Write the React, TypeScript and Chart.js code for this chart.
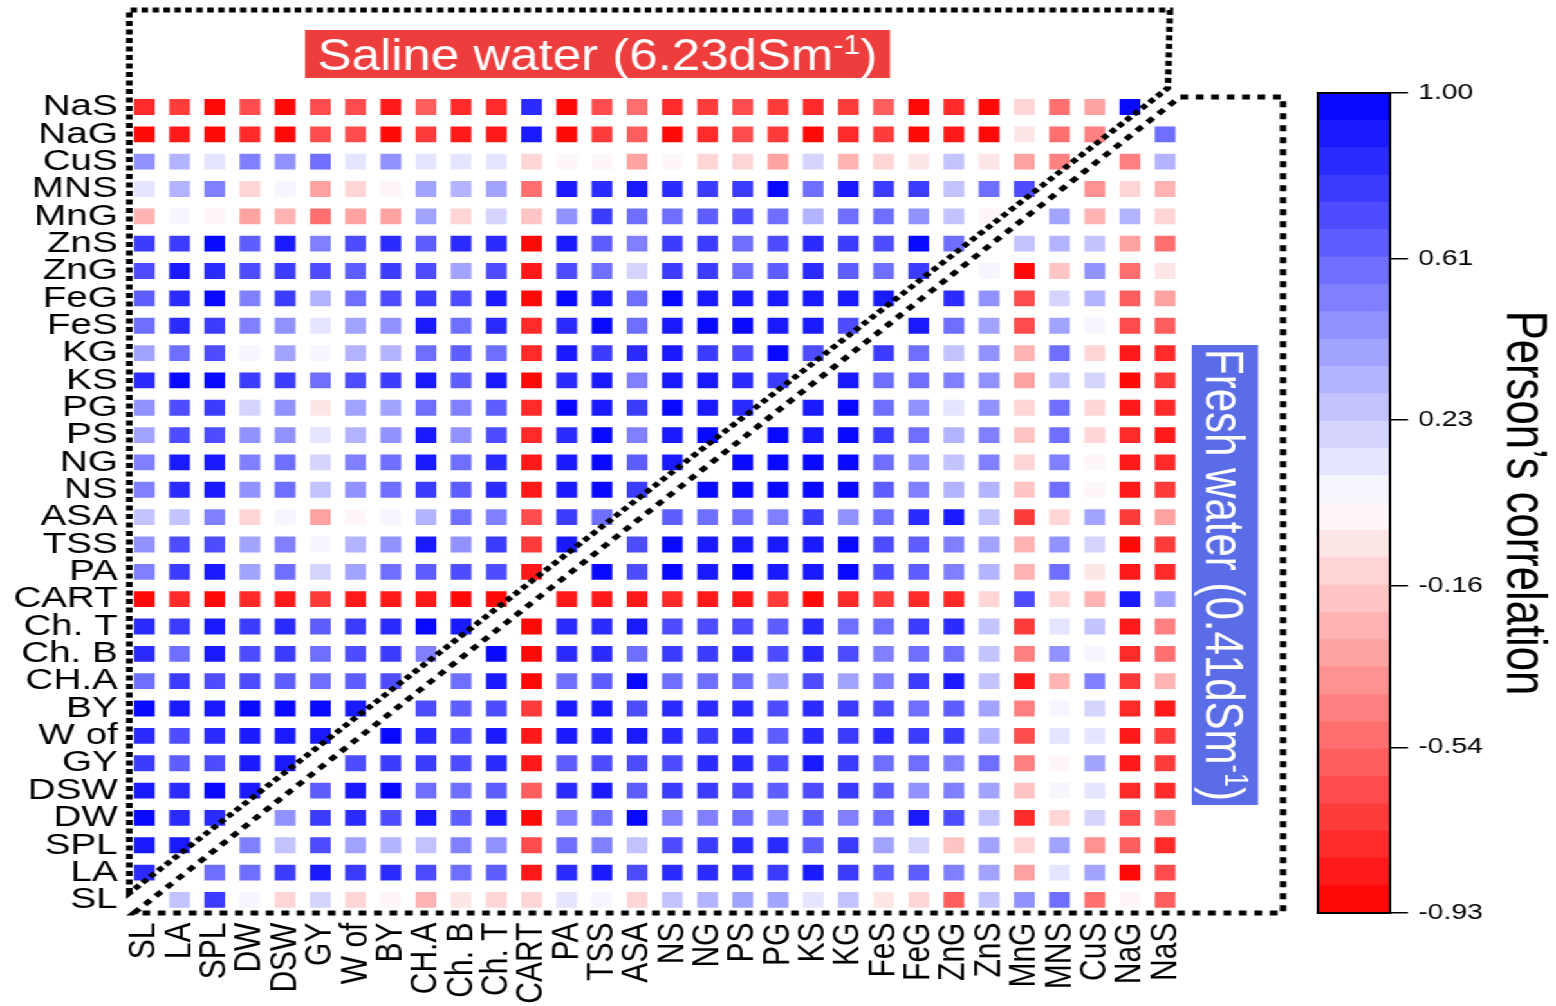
import { useEffect, useRef } from "react";
import { Chart, registerables } from "chart.js";

Chart.register(...registerables);

// ---- labels ----
const colLabels = ["SL", "LA", "SPL", "DW", "DSW", "GY", "W of", "BY", "CH.A", "Ch. B", "Ch. T", "CART", "PA", "TSS", "ASA", "NS", "NG", "PS", "PG", "KS", "KG", "FeS", "FeG", "ZnG", "ZnS", "MnG", "MNS", "CuS", "NaG", "NaS"];
// top to bottom
const rowLabels = ["NaS", "NaG", "CuS", "MNS", "MnG", "ZnS", "ZnG", "FeG", "FeS", "KG", "KS", "PG", "PS", "NG", "NS", "ASA", "TSS", "PA", "CART", "Ch. T", "Ch. B", "CH.A", "BY", "W of", "GY", "DSW", "DW", "SPL", "LA", "SL"];

// ---- correlation rows (columns in colLabels order, null on the diagonal) ----
const rowNaS = [-0.8, -0.7, -0.9, -0.62, -0.87, -0.62, -0.65, -0.82, -0.55, -0.78, -0.78, 0.85, -0.88, -0.65, -0.5, -0.8, -0.72, -0.65, -0.7, -0.78, -0.72, -0.55, -0.88, -0.78, -0.92, -0.12, -0.5, -0.3, 0.95, null];
const rowNaG = [-0.88, -0.85, -0.92, -0.75, -0.87, -0.62, -0.65, -0.87, -0.7, -0.82, -0.82, 0.88, -0.88, -0.72, -0.58, -0.88, -0.78, -0.65, -0.72, -0.9, -0.75, -0.72, -0.88, -0.85, -0.9, -0.03, -0.5, -0.45, null, 0.58];
const rowCuS = [0.45, 0.3, 0.15, 0.52, 0.45, 0.58, 0.15, 0.45, 0.13, 0.13, 0.13, -0.1, -0.02, -0.02, -0.3, -0.02, -0.12, -0.12, -0.3, 0.2, -0.25, -0.12, -0.03, 0.25, -0.03, -0.3, -0.42, null, -0.45, 0.35];
const rowMNS = [0.12, 0.35, 0.5, -0.15, 0.05, -0.35, -0.12, 0.0, 0.38, 0.35, 0.42, -0.48, 0.9, 0.85, 0.9, 0.85, 0.78, 0.75, 0.95, 0.58, 0.92, 0.78, 0.75, 0.25, 0.6, 0.72, null, -0.4, -0.12, -0.28];
const rowMnG = [-0.28, 0.06, 0.0, -0.33, -0.28, -0.48, -0.3, -0.35, 0.42, -0.15, 0.2, -0.18, 0.45, 0.78, 0.55, 0.55, 0.62, 0.68, 0.6, 0.35, 0.58, 0.58, 0.45, 0.28, -0.02, null, 0.38, -0.25, 0.35, -0.12];
const rowZnS = [0.78, 0.75, 0.95, 0.62, 0.9, 0.52, 0.72, 0.85, 0.65, 0.85, 0.85, -0.88, 0.9, 0.65, 0.5, 0.8, 0.78, 0.6, 0.72, 0.85, 0.78, 0.7, 0.95, 0.6, null, 0.25, 0.3, 0.25, -0.3, -0.5];
const rowZnG = [0.72, 0.9, 0.85, 0.7, 0.8, 0.68, 0.65, 0.8, 0.7, 0.42, 0.68, -0.82, 0.68, 0.6, 0.2, 0.78, 0.75, 0.6, 0.65, 0.85, 0.62, 0.6, 0.78, null, 0.05, -0.9, -0.22, 0.45, -0.48, -0.03];
const rowFeG = [0.65, 0.85, 0.97, 0.5, 0.8, 0.35, 0.55, 0.72, 0.8, 0.7, 0.88, -0.92, 0.98, 0.88, 0.6, 1.0, 0.92, 0.88, 0.92, 0.88, 0.9, 0.88, null, 0.85, 0.45, -0.65, 0.2, 0.35, -0.6, -0.35];
const rowFeS = [0.55, 0.85, 0.8, 0.5, 0.48, 0.15, 0.38, 0.48, 0.92, 0.55, 0.82, -0.8, 0.82, 0.98, 0.6, 0.88, 0.98, 0.98, 0.88, 0.88, 0.72, null, 0.88, 0.6, 0.38, -0.62, 0.38, 0.05, -0.62, -0.6];
const rowKG = [0.38, 0.58, 0.72, 0.07, 0.38, 0.07, 0.35, 0.3, 0.55, 0.65, 0.6, -0.78, 0.9, 0.75, 0.82, 0.9, 0.75, 0.72, 0.95, 0.7, null, 0.8, 0.55, 0.25, 0.45, -0.25, 0.6, -0.12, -0.85, -0.78];
const rowKS = [0.85, 0.95, 0.95, 0.78, 0.8, 0.55, 0.72, 0.78, 0.9, 0.65, 0.9, -0.88, 0.85, 0.88, 0.52, 0.88, 0.88, 0.82, 0.78, null, 0.9, 0.58, 0.58, 0.5, 0.45, -0.35, 0.28, 0.22, -0.88, -0.72];
const rowPG = [0.45, 0.7, 0.8, 0.2, 0.48, -0.03, 0.42, 0.38, 0.6, 0.52, 0.62, -0.8, 0.95, 0.88, 0.75, 0.95, 0.9, 0.85, null, 0.92, 0.98, 0.55, 0.45, 0.15, 0.45, -0.12, 0.55, -0.12, -0.82, -0.78];
const rowPS = [0.38, 0.7, 0.72, 0.45, 0.45, 0.15, 0.3, 0.45, 0.92, 0.45, 0.72, -0.75, 0.85, 1.0, 0.5, 0.9, 0.98, null, 0.98, 0.92, 0.98, 0.78, 0.55, 0.35, 0.5, -0.22, 0.55, -0.1, -0.78, -0.85];
const rowNG = [0.52, 0.88, 0.9, 0.52, 0.55, 0.22, 0.5, 0.58, 0.92, 0.55, 0.85, -0.85, 0.88, 0.98, 0.62, 0.92, null, 1.0, 0.98, 0.98, 1.0, 0.55, 0.45, 0.28, 0.52, -0.12, 0.52, -0.02, -0.82, -0.8];
const rowNS = [0.52, 0.82, 0.9, 0.45, 0.55, 0.28, 0.48, 0.55, 0.78, 0.62, 0.85, -0.85, 0.92, 0.95, 0.75, null, 0.98, 0.98, 0.98, 0.95, 1.0, 0.62, 0.5, 0.35, 0.35, -0.2, 0.55, -0.02, -0.85, -0.72];
const rowASA = [0.25, 0.28, 0.52, -0.1, 0.05, -0.3, -0.02, 0.05, 0.3, 0.55, 0.5, -0.62, 0.78, 0.58, null, 0.62, 0.6, 0.6, 0.5, 0.8, 0.48, 0.55, 0.85, 0.92, 0.28, -0.72, -0.12, 0.42, -0.72, -0.3];
const rowTSS = [0.45, 0.72, 0.72, 0.38, 0.5, 0.07, 0.32, 0.45, 0.9, 0.48, 0.75, -0.72, 0.88, null, 0.68, 0.98, 0.92, 0.92, 0.92, 0.92, 0.95, 0.68, 0.62, 0.52, 0.42, -0.25, 0.48, 0.2, -0.9, -0.72];
const rowPA = [0.52, 0.75, 0.9, 0.38, 0.6, 0.2, 0.38, 0.6, 0.62, 0.68, 0.72, -0.82, null, 0.98, 0.68, 0.98, 0.92, 0.98, 0.9, 0.88, 0.95, 0.7, 0.62, 0.5, 0.35, -0.25, 0.55, -0.03, -0.82, -0.78];
const rowCART = [-0.87, -0.8, -0.93, -0.8, -0.85, -0.7, -0.85, -0.85, -0.82, -0.9, -0.93, null, -0.85, -0.82, -0.82, -0.75, -0.82, -0.82, -0.72, -0.9, -0.8, -0.7, -0.8, -0.75, -0.15, 0.68, -0.15, -0.25, 0.92, 0.42];
const rowChT = [0.85, 0.78, 0.88, 0.78, 0.85, 0.65, 0.8, 0.85, 0.95, 0.9, null, -0.93, 0.82, 0.82, 0.88, 0.72, 0.72, 0.72, 0.62, 0.85, 0.6, 0.55, 0.78, 0.85, 0.28, -0.7, 0.15, 0.28, -0.82, -0.45];
const rowChB = [0.82, 0.55, 0.9, 0.68, 0.78, 0.55, 0.72, 0.78, 0.5, null, 0.95, -0.9, 0.82, 0.82, 0.6, 0.78, 0.75, 0.82, 0.72, 0.82, 0.72, 0.5, 0.58, 0.55, 0.25, -0.42, 0.45, 0.05, -0.78, -0.5];
const rowCHA = [0.55, 0.78, 0.72, 0.7, 0.65, 0.55, 0.65, 0.72, null, 0.55, 0.88, -0.88, 0.55, 0.62, 1.0, 0.55, 0.55, 0.55, 0.4, 0.72, 0.42, 0.5, 0.8, 0.92, 0.25, -0.84, -0.25, 0.5, -0.72, -0.28];
const rowBY = [0.95, 0.88, 0.9, 0.95, 1.0, 0.95, 0.92, null, 0.72, 0.62, 0.72, -0.68, 0.88, 0.9, 0.72, 0.85, 0.85, 0.85, 0.68, 0.82, 0.78, 0.72, 0.58, 0.62, 0.4, -0.42, 0.07, 0.22, -0.8, -0.82];
const rowWof = [0.85, 0.7, 0.85, 0.92, 0.9, 0.88, null, 0.95, 0.85, 0.7, 0.9, -0.82, 0.9, 0.9, 0.88, 0.82, 0.75, 0.85, 0.65, 0.82, 0.78, 0.85, 0.78, 0.75, 0.3, -0.62, 0.15, 0.15, -0.82, -0.68];
const rowGY = [0.75, 0.62, 0.72, 0.9, 0.92, null, 0.72, 0.78, 0.78, 0.7, 0.82, -0.82, 0.65, 0.72, 0.72, 0.72, 0.82, 0.85, 0.68, 0.92, 0.78, 0.6, 0.55, 0.5, 0.6, -0.42, 0.0, 0.4, -0.85, -0.72];
const rowDSW = [0.88, 0.85, 0.95, 0.92, null, 0.62, 0.92, 1.0, 0.55, 0.55, 0.62, -0.6, 0.85, 0.92, 0.62, 0.75, 0.75, 0.72, 0.65, 0.72, 0.78, 0.62, 0.45, 0.5, 0.42, -0.2, 0.05, 0.15, -0.75, -0.8];
const rowDW = [0.95, 0.85, 0.85, null, 0.48, 0.75, 0.85, 0.72, 0.9, 0.62, 0.92, -0.88, 0.5, 0.55, 0.98, 0.52, 0.5, 0.58, 0.45, 0.65, 0.5, 0.55, 0.88, 0.7, 0.28, -0.75, -0.12, 0.2, -0.65, -0.45];
const rowSPL = [0.92, 0.92, null, 0.5, 0.28, 0.7, 0.42, 0.35, 0.28, 0.52, 0.45, -0.65, 0.6, 0.5, 0.25, 0.68, 0.75, 0.85, 0.85, 0.65, 0.8, 0.38, 0.2, -0.2, 0.4, -0.1, 0.42, -0.38, -0.6, -0.8];
const rowLA = [0.85, null, 0.55, 0.6, 0.78, 0.92, 0.78, 0.85, 0.7, 0.55, 0.65, -0.85, 0.85, 0.9, 0.72, 0.85, 0.85, 0.85, 0.8, 0.9, 0.78, 0.62, 0.62, 0.5, 0.42, -0.3, 0.15, 0.42, -0.92, -0.65];
const rowSL = [null, 0.25, 0.8, 0.07, -0.1, 0.2, -0.1, 0.0, -0.28, -0.03, -0.12, -0.12, 0.15, 0.05, -0.15, 0.28, 0.3, 0.42, 0.42, 0.15, 0.28, -0.03, -0.15, -0.6, 0.28, 0.45, 0.55, -0.5, -0.02, -0.6];

const matrix: (number | null)[][] = [rowNaS, rowNaG, rowCuS, rowMNS, rowMnG, rowZnS, rowZnG, rowFeG, rowFeS, rowKG, rowKS, rowPG, rowPS, rowNG, rowNS, rowASA, rowTSS, rowPA, rowCART, rowChT, rowChB, rowCHA, rowBY, rowWof, rowGY, rowDSW, rowDW, rowSPL, rowLA, rowSL];

// ---- colour scale ----
const scaleMin = -0.93;
const scaleMax = 1.0;
const scaleTicks = [-0.93, -0.54, -0.16, 0.23, 0.61, 1.0];
const LEVELS = 30;

// ---- page geometry ----
const STRETCH = 1.287; // the whole figure is widened horizontally
const PAGE_H = 1006;
const GRID_W = 1010;
const BAR_W = 199;
const LOGICAL_W = GRID_W + BAR_W;
const FONT = '"Liberation Sans", Arial, Helvetica, sans-serif';
const RED_BOX = "#ee3d3d";
const BLUE_BOX = "#5b6de6";

function levelColor(k: number): string {
  const t = (k + 0.5) / LEVELS;
  if (t < 0.5) {
    const c = Math.round(255 * (t / 0.5));
    return `rgb(255,${c},${c})`;
  }
  const c = Math.round(255 * ((1 - t) / 0.5));
  return `rgb(${c},${c},255)`;
}

function colorFor(v: number): string {
  let k = Math.floor(((v - scaleMin) / (scaleMax - scaleMin)) * LEVELS);
  k = Math.max(0, Math.min(LEVELS - 1, k));
  return levelColor(k);
}

// text with a superscript part, centred on the origin
function drawSupLabel(ctx: CanvasRenderingContext2D, main: string, sup: string, tail: string, size: number) {
  const supSize = size * 0.6;
  ctx.textAlign = "left";
  ctx.textBaseline = "alphabetic";
  ctx.font = `${size}px ${FONT}`;
  const w1 = ctx.measureText(main).width;
  const w3 = ctx.measureText(tail).width;
  ctx.font = `${supSize}px ${FONT}`;
  const w2 = ctx.measureText(sup).width;
  let x = -(w1 + w2 + w3) / 2;
  const base = (size * 0.716) / 2;
  ctx.font = `${size}px ${FONT}`;
  ctx.fillText(main, x, base);
  x += w1;
  ctx.font = `${supSize}px ${FONT}`;
  ctx.fillText(sup, x, base - size * 0.36);
  x += w2;
  ctx.font = `${size}px ${FONT}`;
  ctx.fillText(tail, x, base);
}

const framePlugin = {
  id: "frames",
  afterDraw(chart: any) {
    const { ctx, chartArea: a } = chart;
    ctx.save();
    ctx.strokeStyle = "#000";
    ctx.lineWidth = 5;
    ctx.lineCap = "butt";

    // upper (saline) triangle frame
    ctx.setLineDash([5, 3.5]);
    ctx.beginPath();
    ctx.moveTo(a.left + 2, a.bottom - 20.6);
    ctx.lineTo(a.left + 2, 10);
    ctx.lineTo(a.right - 9.9, 10);
    ctx.lineTo(a.right - 11.5, a.top - 5.3);
    ctx.closePath();
    ctx.stroke();

    // lower (fresh) triangle frame
    ctx.setLineDash([6, 6]);
    ctx.beginPath();
    ctx.moveTo(a.left + 5.6, a.bottom - 0.6);
    ctx.lineTo(a.right - 2.1, a.top + 3.7);
    ctx.lineTo(a.right + 77.9, a.top + 3.7);
    ctx.lineTo(a.right + 77.9, a.bottom - 0.6);
    ctx.closePath();
    ctx.stroke();
    ctx.setLineDash([]);

    // saline water tag
    ctx.fillStyle = RED_BOX;
    ctx.fillRect(237, 30, 454.5, 48);
    ctx.save();
    ctx.translate(237 + 454.5 / 2, 54);
    ctx.scale(0.88, 1);
    ctx.fillStyle = "#fff";
    drawSupLabel(ctx, "Saline water (6.23dSm", "-1", ")", 45);
    ctx.restore();

    // fresh water tag (vertical)
    ctx.fillStyle = BLUE_BOX;
    ctx.fillRect(926, 345, 51.5, 460);
    ctx.save();
    ctx.translate(926 + 51.5 / 2, 575);
    ctx.rotate(Math.PI / 2);
    ctx.fillStyle = "#fff";
    drawSupLabel(ctx, "Fresh water (0.41dSm", "-1", ")", 42);
    ctx.restore();

    ctx.restore();
  },
};

const outlinePlugin = {
  id: "outline",
  afterDraw(chart: any) {
    const { ctx, chartArea: a } = chart;
    ctx.save();
    ctx.strokeStyle = "#000";
    ctx.lineWidth = 2;
    ctx.strokeRect(a.left, a.top, a.right - a.left, a.bottom - a.top);
    ctx.restore();
  },
};

function gridConfig(): any {
  const n = rowLabels.length;
  const half = 0.29;
  const datasets = matrix.map((values, r) => {
    const yPos = n - 1 - r;
    return {
      label: rowLabels[r],
      data: values.map((v) => (v === null ? null : [yPos - half, yPos + half])),
      backgroundColor: values.map((v) => (v === null ? "rgba(0,0,0,0)" : colorFor(v))),
      borderWidth: 0,
      grouped: false,
      barPercentage: 0.59,
      categoryPercentage: 1,
    };
  });
  return {
    type: "bar",
    data: { labels: colLabels, datasets },
    plugins: [framePlugin],
    options: {
      responsive: false,
      animation: false,
      events: [],
      layout: { padding: { left: 0, right: 91, top: 93.3, bottom: 0 } },
      plugins: { legend: { display: false }, tooltip: { enabled: false } },
      scales: {
        x: {
          type: "category",
          offset: true,
          grid: { display: false, drawTicks: false },
          border: { display: false },
          ticks: {
            autoSkip: false,
            minRotation: 90,
            maxRotation: 90,
            padding: 9,
            color: "#000",
            font: { family: FONT, size: 30 },
          },
          afterFit: (s: any) => {
            s.height = 92.4;
          },
        },
        y: {
          type: "linear",
          min: -0.5,
          max: n - 0.5,
          grid: { display: false, drawTicks: false },
          border: { display: false },
          afterBuildTicks: (s: any) => {
            s.ticks = rowLabels.map((_, i) => ({ value: i }));
          },
          ticks: {
            autoSkip: false,
            padding: 7,
            color: "#000",
            font: { family: FONT, size: 30 },
            callback: (v: any) => rowLabels[n - 1 - Math.round(Number(v))] ?? "",
          },
          afterFit: (s: any) => {
            s.width = 98.5;
          },
        },
      },
    },
  };
}

function colorbarConfig(): any {
  const datasets = Array.from({ length: LEVELS }, (_, k) => {
    const lo = scaleMin + ((scaleMax - scaleMin) * k) / LEVELS;
    const hi = scaleMin + ((scaleMax - scaleMin) * (k + 1)) / LEVELS;
    return {
      data: [[lo, hi]],
      backgroundColor: levelColor(k),
      borderWidth: 0,
      grouped: false,
      barPercentage: 1,
      categoryPercentage: 1,
    };
  });
  return {
    type: "bar",
    data: { labels: ["r"], datasets },
    plugins: [outlinePlugin],
    options: {
      responsive: false,
      animation: false,
      events: [],
      layout: { padding: { left: 14, right: 0, top: 93, bottom: 93 } },
      plugins: { legend: { display: false }, tooltip: { enabled: false } },
      scales: {
        x: { display: false },
        y: {
          type: "linear",
          position: "right",
          min: scaleMin,
          max: scaleMax,
          afterBuildTicks: (s: any) => {
            s.ticks = scaleTicks.map((v) => ({ value: v }));
          },
          grid: { drawOnChartArea: false, drawTicks: true, tickLength: 14, color: "#000", lineWidth: 1.5 },
          border: { display: false },
          ticks: {
            padding: 8,
            color: "#000",
            font: { family: FONT, size: 22 },
            callback: (v: any) => Number(v).toFixed(2),
          },
          title: {
            display: true,
            text: "Person\u2019s correlation",
            color: "#000",
            font: { family: FONT, size: 43.6 },
            padding: 0,
          },
          afterFit: (s: any) => {
            s.width = BAR_W - 14 - 56;
          },
        },
      },
    },
  };
}

export default function App() {
  const gridRef = useRef<HTMLCanvasElement>(null);
  const barRef = useRef<HTMLCanvasElement>(null);

  useEffect(() => {
    const grid = new Chart(gridRef.current as HTMLCanvasElement, gridConfig());
    const bar = new Chart(barRef.current as HTMLCanvasElement, colorbarConfig());
    return () => {
      grid.destroy();
      bar.destroy();
    };
  }, []);

  return (
    <div
      style={{
        position: "absolute",
        left: 0,
        top: 0,
        width: LOGICAL_W,
        height: PAGE_H,
        background: "#fff",
        transform: `scaleX(${STRETCH})`,
        transformOrigin: "0 0",
      }}
    >
      <canvas
        ref={gridRef}
        width={GRID_W}
        height={PAGE_H}
        style={{ position: "absolute", left: 0, top: 0, width: `${GRID_W}px`, height: `${PAGE_H}px` }}
      />
      <canvas
        ref={barRef}
        width={BAR_W}
        height={PAGE_H}
        style={{ position: "absolute", left: GRID_W, top: 0, width: `${BAR_W}px`, height: `${PAGE_H}px` }}
      />
    </div>
  );
}
